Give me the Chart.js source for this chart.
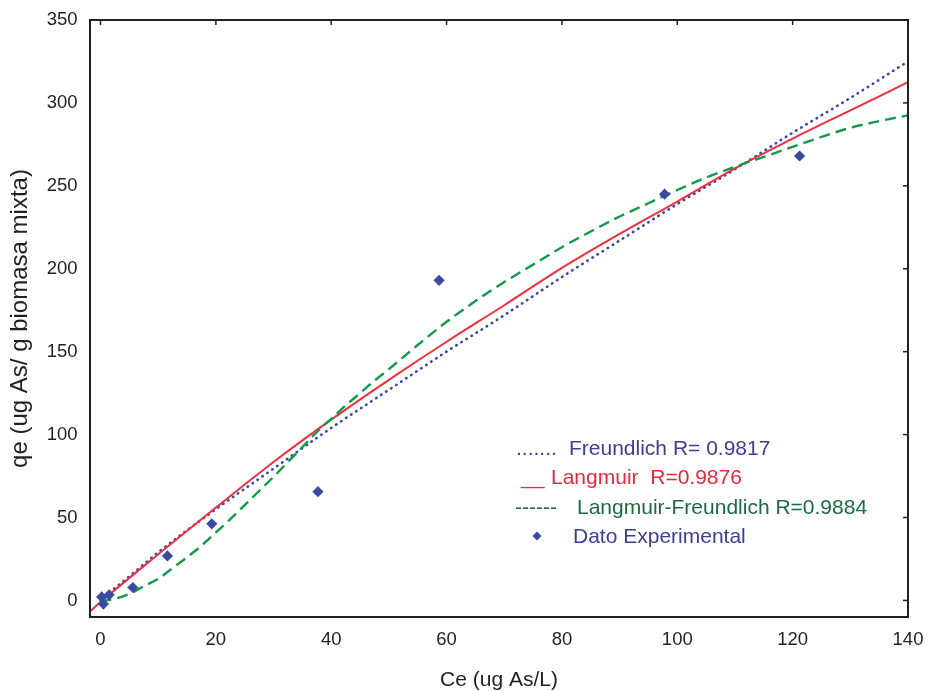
<!DOCTYPE html>
<html>
<head>
<meta charset="utf-8">
<title>Isotermas de adsorción</title>
<script src="https://cdn.jsdelivr.net/npm/chart.js@4.4.0/dist/chart.umd.min.js"></script>
<style>
  html, body { margin: 0; padding: 0; background: #fff; }
  canvas { display: block; }
</style>
</head>
<body>
<canvas id="isoChart" width="929" height="691"></canvas>
<script>
// Freundlich fit (dotted)
const ceFreundlich = [0, 2.5, 5, 10, 20, 30, 40, 50, 60, 70, 80, 90, 100, 110, 120, 130, 140];
const qeFreundlich = [0, 7.5, 14.5, 29, 55, 79.5, 104, 127, 150, 172, 195, 217, 239, 260, 282, 303, 325];

// Langmuir fit (solid)
const ceLangmuir = [-1.8, 0, 10, 20, 30, 40, 50, 60, 70, 80, 90, 100, 110, 120, 130, 140];
const qeLangmuir = [-6.5, -1, 27.8, 56, 83.5, 109, 133, 156, 178, 200.5, 221, 240.5, 260.5, 278.5, 295.5, 312.5];

// Langmuir-Freundlich fit (dashed)
const ceLF = [0, 2.5, 5, 7.5, 10, 12.5, 15, 17.5, 20, 22.5, 25, 27.5, 30, 32.5, 35, 37.5, 40, 42.5, 45, 47.5,
  50, 55, 60, 65, 70, 75, 80, 85, 90, 95, 100, 105, 110, 115, 120, 125, 130, 135, 140];
const qeLF = [-0.5, 1, 4, 8.5, 13, 19.5, 26, 33, 41, 49, 57.5, 66, 74.5, 83.5, 92.5, 101.5, 109.5, 117.5, 125, 132.5,
  139.5, 154, 168, 180.5, 192, 202.5, 213, 222.5, 231.5, 239.5, 247.5, 255, 261.5, 267.5, 273.5, 279.5, 285, 289, 292.5];

// experimental points
const ceExp = [0.2, 0.5, 1.5, 5.6, 11.6, 19.3, 37.7, 58.7, 97.8, 121.2];
const qeExp = [2.1, -2.2, 3.4, 7.8, 26.8, 46.2, 65.6, 193, 245, 268];

const xTicks = [0, 20, 40, 60, 80, 100, 120, 140];
const yTicks = [0, 50, 100, 150, 200, 250, 300, 350];

const xTitle = "Ce (ug As/L)";
const yTitle = "qe (ug As/ g biomasa mixta)";
const legendMarks = [".......", "__", "------", ""];
const legendLabels = ["Freundlich R= 0.9817", "Langmuir  R=0.9876", "Langmuir-Freundlich R=0.9884", "Dato Experimental"];

const FONT = "'Liberation Sans', Arial, sans-serif";
const INK = "#231f20";
const BLUE = "#3a4aa3";
const RED = "#ee3040";
const GREEN = "#129a4c";

const toXY = (xs, ys) => xs.map((x, i) => ({ x: x, y: ys[i] }));

// box around the plot + inward ticks on top and right
const framePlugin = {
  id: "frame",
  afterDatasetsDraw(chart) {
    const { ctx, chartArea: a, scales } = chart;
    ctx.save();
    ctx.strokeStyle = INK;
    ctx.lineWidth = 2;
    ctx.strokeRect(a.left, a.top, a.right - a.left, a.bottom - a.top);
    ctx.lineWidth = 1.5;
    xTicks.forEach((v) => {
      const px = scales.x.getPixelForValue(v);
      ctx.beginPath();
      ctx.moveTo(px, a.top);
      ctx.lineTo(px, a.top + 5);
      ctx.stroke();
    });
    yTicks.forEach((v) => {
      const py = scales.y.getPixelForValue(v);
      ctx.beginPath();
      ctx.moveTo(a.right, py);
      ctx.lineTo(a.right - 5, py);
      ctx.stroke();
    });
    ctx.restore();
  },
};

// text legend inside the plot
const legendPlugin = {
  id: "textLegend",
  afterDraw(chart) {
    const ctx = chart.ctx;
    const rows = [
      { markX: 516, textX: 569, y: 455, color: "#3b3e94", markColor: "#3b3e94" },
      { markX: 521, textX: 551, y: 484, color: "#e8283c", markColor: "#e8283c" },
      { markX: 515, textX: 577, y: 514, color: "#1e6a42", markColor: "#1e6a42" },
      { markX: 537, textX: 573, y: 543, color: "#3b3e94", markColor: BLUE },
    ];
    ctx.save();
    ctx.font = "21px " + FONT;
    ctx.textBaseline = "alphabetic";
    ctx.textAlign = "left";
    rows.forEach((r, i) => {
      ctx.fillStyle = r.markColor;
      if (legendMarks[i]) {
        ctx.fillText(legendMarks[i], r.markX, r.y);
      } else {
        const cy = r.y - 7;
        ctx.beginPath();
        ctx.moveTo(r.markX, cy - 4.5);
        ctx.lineTo(r.markX + 4.5, cy);
        ctx.lineTo(r.markX, cy + 4.5);
        ctx.lineTo(r.markX - 4.5, cy);
        ctx.closePath();
        ctx.fill();
      }
      ctx.fillStyle = r.color;
      ctx.fillText(legendLabels[i], r.textX, r.y);
    });
    ctx.restore();
  },
};

const ctx = document.getElementById("isoChart").getContext("2d");
new Chart(ctx, {
  type: "scatter",
  data: {
    datasets: [
      {
        label: legendLabels[3],
        data: toXY(ceExp, qeExp),
        pointStyle: "rectRot",
        pointRadius: 5.6,
        pointBackgroundColor: BLUE,
        pointBorderWidth: 0,
        showLine: false,
        order: 0,
      },
      {
        label: legendLabels[2],
        data: toXY(ceLF, qeLF),
        showLine: true,
        borderColor: GREEN,
        borderWidth: 2.4,
        borderDash: [11, 6],
        pointRadius: 0,
        cubicInterpolationMode: "monotone",
        order: 1,
      },
      {
        label: legendLabels[1],
        data: toXY(ceLangmuir, qeLangmuir),
        showLine: true,
        borderColor: RED,
        borderWidth: 2,
        pointRadius: 0,
        cubicInterpolationMode: "monotone",
        order: 2,
      },
      {
        label: legendLabels[0],
        data: toXY(ceFreundlich, qeFreundlich),
        showLine: true,
        borderColor: BLUE,
        borderWidth: 2.6,
        borderDash: [0.5, 5.5],
        borderCapStyle: "round",
        pointRadius: 0,
        cubicInterpolationMode: "monotone",
        order: 3,
      },
    ],
  },
  options: {
    responsive: false,
    animation: false,
    devicePixelRatio: 1,
    layout: { padding: { top: 20, right: 21, bottom: 0, left: 0 } },
    plugins: {
      legend: { display: false },
      tooltip: { enabled: false },
    },
    scales: {
      x: {
        type: "linear",
        min: -1.82,
        max: 140,
        afterBuildTicks: (s) => {
          s.ticks = xTicks.map((v) => ({ value: v }));
        },
        afterFit: (s) => {
          s.height = 74;
          s.paddingLeft = 0;
          s.paddingRight = 0;
        },
        grid: { display: false, drawTicks: false },
        border: { display: false },
        ticks: {
          padding: 12,
          color: INK,
          font: { family: FONT, size: 18.5, lineHeight: 1.2 },
          maxRotation: 0,
        },
        title: {
          display: true,
          text: xTitle,
          color: INK,
          font: { family: FONT, size: 21, lineHeight: 1 },
          padding: { top: 0, bottom: 0.5 },
        },
      },
      y: {
        type: "linear",
        min: -10,
        max: 350,
        afterBuildTicks: (s) => {
          s.ticks = yTicks.map((v) => ({ value: v }));
        },
        afterFit: (s) => {
          s.width = 90;
          s.paddingTop = 0;
          s.paddingBottom = 0;
        },
        grid: { display: false, drawTicks: false },
        border: { display: false },
        ticks: {
          padding: 12.5,
          color: INK,
          font: { family: FONT, size: 18.5 },
        },
        title: {
          display: true,
          text: yTitle,
          color: INK,
          font: { family: FONT, size: 24, lineHeight: 1 },
          padding: { top: 8.5, bottom: 0 },
        },
      },
    },
  },
  plugins: [framePlugin, legendPlugin],
});
</script>
</body>
</html>
